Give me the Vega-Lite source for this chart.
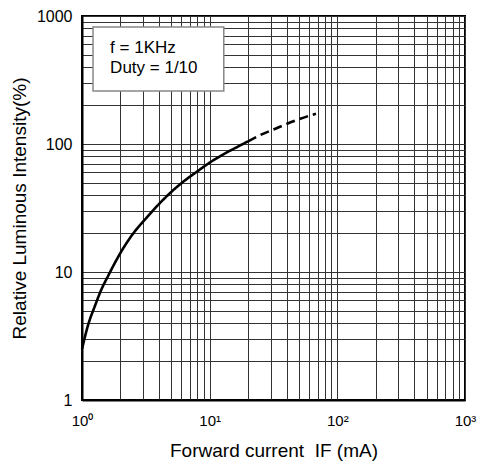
{
  "$schema": "https://vega.github.io/schema/vega-lite/v6.json",
  "width": 383,
  "height": 384,
  "autosize": {"type": "none"},
  "padding": {"left": 82, "top": 16, "right": 13, "bottom": 61},
  "background": "white",
  "config": {
    "font": "Liberation Sans",
    "view": {"stroke": "#000", "strokeWidth": 2},
    "axis": {
      "gridColor": "#333",
      "gridWidth": 1,
      "gridOpacity": 1,
      "domainColor": "#000",
      "domainWidth": 2,
      "ticks": false,
      "labelColor": "#000",
      "titleColor": "#000",
      "titleFontWeight": "normal",
      "labelOverlap": false,
      "labelFlush": false,
      "labelFont": "Liberation Sans",
      "titleFont": "Liberation Sans"
    }
  },
  "encoding": {
    "x": {
      "field": "x",
      "type": "quantitative",
      "scale": {"type": "log", "domain": [1, 1000]},
      "axis": {
        "title": "Forward current\u00a0\u00a0IF (mA)",
        "values": [1, 2, 3, 4, 5, 6, 7, 8, 9, 10, 20, 30, 40, 50, 60, 70, 80, 90, 100, 200, 300, 400, 500, 600, 700, 800, 900, 1000],
        "labelExpr": "datum.value == 1 ? '10⁰' : datum.value == 10 ? '10¹' : datum.value == 100 ? '10²' : datum.value == 1000 ? '10³' : ''",
        "labelPadding": 13,
        "labelFontSize": 15,
        "titleFontSize": 19,
        "titlePadding": 13
      }
    },
    "y": {
      "field": "y",
      "type": "quantitative",
      "scale": {"type": "log", "domain": [1, 1000]},
      "axis": {
        "title": "Relative Luminous Intensity(%)",
        "values": [1, 2, 3, 4, 5, 6, 7, 8, 9, 10, 20, 30, 40, 50, 60, 70, 80, 90, 100, 200, 300, 400, 500, 600, 700, 800, 900, 1000],
        "labelExpr": "datum.value == 1 ? '1' : datum.value == 10 ? '10' : datum.value == 100 ? '100' : datum.value == 1000 ? '1000' : ''",
        "labelPadding": 10,
        "labelFontSize": 16,
        "titleFontSize": 19,
        "titlePadding": 7
      }
    }
  },
  "layer": [
    {
      "data": {"values": [{"x": 1.22, "x2": 12.9, "y": 260, "y2": 820}]},
      "mark": {"type": "rect", "fill": "white", "stroke": "#888", "strokeWidth": 1.5},
      "encoding": {
        "x2": {"field": "x2"},
        "y2": {"field": "y2"}
      }
    },
    {
      "data": {
        "values": [
          {"segment": "measured", "x": 1.0, "y": 2.5},
          {"segment": "measured", "x": 1.12, "y": 3.9},
          {"segment": "measured", "x": 1.26, "y": 5.4},
          {"segment": "measured", "x": 1.41, "y": 7.2},
          {"segment": "measured", "x": 1.6, "y": 9.3},
          {"segment": "measured", "x": 2.0, "y": 14.1},
          {"segment": "measured", "x": 2.5, "y": 19.8},
          {"segment": "measured", "x": 3.2, "y": 26.5},
          {"segment": "measured", "x": 4.0, "y": 33.9},
          {"segment": "measured", "x": 5.0, "y": 42.2},
          {"segment": "measured", "x": 6.3, "y": 51.3},
          {"segment": "measured", "x": 8.0, "y": 61.1},
          {"segment": "measured", "x": 10, "y": 71.5},
          {"segment": "measured", "x": 12.6, "y": 82.4},
          {"segment": "measured", "x": 16, "y": 93.5},
          {"segment": "measured", "x": 20, "y": 105},
          {"segment": "extrapolated", "x": 20, "y": 105},
          {"segment": "extrapolated", "x": 25, "y": 117.6},
          {"segment": "extrapolated", "x": 32, "y": 130.5},
          {"segment": "extrapolated", "x": 40, "y": 143.4},
          {"segment": "extrapolated", "x": 50, "y": 156},
          {"segment": "extrapolated", "x": 63, "y": 168.5},
          {"segment": "extrapolated", "x": 68, "y": 172}
        ]
      },
      "mark": {"type": "line", "color": "#000", "strokeWidth": 2.6, "interpolate": "monotone"},
      "encoding": {
        "detail": {"field": "segment"},
        "strokeDash": {
          "field": "segment",
          "type": "nominal",
          "scale": {"domain": ["measured", "extrapolated"], "range": [[1, 0], [9, 5]]},
          "legend": null
        }
      }
    },
    {
      "data": {
        "values": [
          {"note": "f = 1KHz", "x": 1.66, "y": 514},
          {"note": "Duty = 1/10", "x": 1.66, "y": 359}
        ]
      },
      "mark": {"type": "text", "align": "left", "baseline": "alphabetic", "fontSize": 17, "color": "#000", "font": "Liberation Sans"},
      "encoding": {
        "text": {"field": "note"}
      }
    }
  ]
}
